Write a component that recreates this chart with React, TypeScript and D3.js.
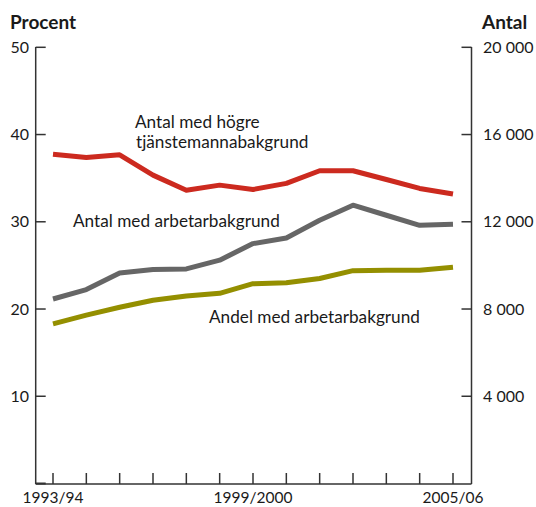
import React from "react";
import * as d3 from "d3";

const years = ["1993/94","1994/95","1995/96","1996/97","1997/98","1998/99","1999/2000","2000/01","2001/02","2002/03","2003/04","2004/05","2005/06"];
const xTickLabels = ["1993/94", "1999/2000", "2005/06"];
// Antal (right axis)
const antalHogre = [15100, 14950, 15070, 14140, 13450, 13680, 13480, 13760, 14340, 14340, 13940, 13530, 13270];
const antalArbetar = [8460, 8890, 9650, 9810, 9840, 10240, 11000, 11260, 12070, 12760, 12300, 11840, 11890];
// Andel (left axis, percent)
const andelArbetar = [18.3, 19.3, 20.2, 21.0, 21.5, 21.8, 22.9, 23.0, 23.5, 24.4, 24.45, 24.45, 24.8];
const leftTicks = [10, 20, 30, 40, 50];
const rightTicks = [4000, 8000, 12000, 16000, 20000];

const W = 536, H = 507;
const FONT = "Lato, 'Open Sans', sans-serif";

export default function App() {
  const x = d3.scaleLinear().domain([0, years.length - 1]).range([53, 453]);
  const yL = d3.scaleLinear().domain([0, 50]).range([483.5, 47.3]);
  const yR = d3.scaleLinear().domain([0, 20000]).range([483.5, 47.3]);
  const axL = 35.7, axR = 471.5, axB = 484;
  const fmt = (v: number) => d3.format(",")(v).replace(/,/g, " ");

  const lineR = d3.line<number>().x((_, i) => x(i)).y((d) => yR(d));
  const lineL = d3.line<number>().x((_, i) => x(i)).y((d) => yL(d));

  const axisColor = "#333";
  const textColor = "#1a1a1a";

  return (
    <svg width={W} height={H} style={{ position: "absolute", left: 0, top: 0 }} fontFamily={FONT}>
      {/* axis titles */}
      <text x={10} y={29} fontSize={19} fontWeight={700} fill={textColor}>Procent</text>
      <text x={482} y={29} fontSize={19} fontWeight={700} fill={textColor}>Antal</text>

      {/* axes */}
      <line x1={axL} x2={axL} y1={47} y2={axB} stroke={axisColor} strokeWidth={1.5} />
      <line x1={axR} x2={axR} y1={47} y2={axB} stroke={axisColor} strokeWidth={1.5} />
      <line x1={axL} x2={axR} y1={axB} y2={axB} stroke={axisColor} strokeWidth={1.5} />
      <line x1={axL} x2={axL + 10} y1={axB - 0.5} y2={axB - 0.5} stroke={axisColor} strokeWidth={2} />

      {leftTicks.map((t) => (
        <g key={"l" + t}>
          <line x1={axL} x2={axL + 10} y1={yL(t)} y2={yL(t)} stroke={axisColor} strokeWidth={1.5} />
          <text x={29} y={yL(t)} dy="0.35em" textAnchor="end" fontSize={16} fill={textColor}>{t}</text>
        </g>
      ))}
      {rightTicks.map((t) => (
        <g key={"r" + t}>
          <line x1={axR - 10} x2={axR} y1={yR(t)} y2={yR(t)} stroke={axisColor} strokeWidth={1.5} />
          <text x={483} y={yR(t)} dy="0.35em" textAnchor="start" fontSize={16} fill={textColor}>{fmt(t)}</text>
        </g>
      ))}
      {years.map((yr, i) => (
        <line key={"x" + yr} x1={x(i)} x2={x(i)} y1={axB} y2={axB - 11} stroke={axisColor} strokeWidth={1.5} />
      ))}
      {years.map((yr, i) =>
        xTickLabels.includes(yr) ? (
          <text key={"xl" + yr} x={x(i)} y={503} textAnchor="middle" fontSize={15.5} fill={textColor}>{yr}</text>
        ) : null
      )}

      {/* lines */}
      <path d={lineR(antalHogre) || ""} fill="none" stroke="#cc2a1f" strokeWidth={5} strokeLinejoin="round" />
      <path d={lineR(antalArbetar) || ""} fill="none" stroke="#666666" strokeWidth={5} strokeLinejoin="round" />
      <path d={lineL(andelArbetar) || ""} fill="none" stroke="#948f00" strokeWidth={5} strokeLinejoin="round" />

      {/* labels */}
      <text x={135} y={128} fontSize={17.2} fill={textColor}>Antal med högre</text>
      <text x={136} y={148} fontSize={17.2} fill={textColor}>tjänstemannabakgrund</text>
      <text x={73} y={227} fontSize={17.2} fill={textColor}>Antal med arbetarbakgrund</text>
      <text x={209} y={323} fontSize={17.2} fill={textColor}>Andel med arbetarbakgrund</text>
    </svg>
  );
}
